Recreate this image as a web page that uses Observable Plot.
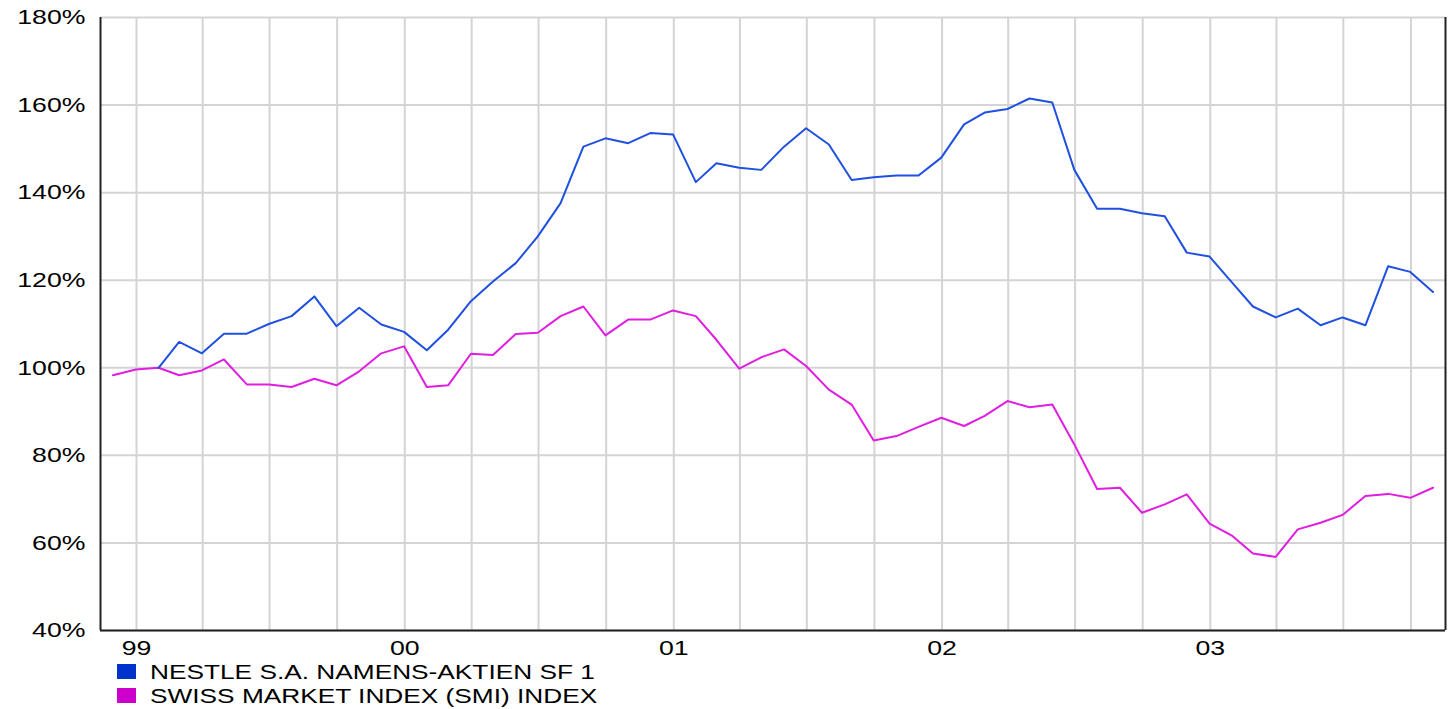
<!DOCTYPE html>
<html><head><meta charset="utf-8">
<script src="https://cdn.jsdelivr.net/npm/d3@7"></script>
<script src="https://cdn.jsdelivr.net/npm/@observablehq/plot@0.6"></script>
<style>
body{margin:0;background:#fff;font-family:"Liberation Sans",Arial,sans-serif;}
#chart svg{display:block;}
#legend{position:relative;height:49px;width:1449px;}
.row{position:absolute;left:117px;height:23px;width:700px;}
.sw{position:absolute;left:0;top:4px;width:19px;height:15px;}
.lab{position:absolute;left:33px;top:0;line-height:23px;white-space:nowrap;font-size:21px;transform:scaleX(1.25);transform-origin:left center;color:#000;}
</style></head><body>
<div id="chart"></div>
<div id="legend"></div>
<script>
const seriesNames = ["NESTLE S.A. NAMENS-AKTIEN SF 1", "SWISS MARKET INDEX (SMI) INDEX"];
const lineColors = ["#1f50e0", "#e01ee0"];
const legendColors = ["#0033cc", "#cc00cc"];

// month-end values, Nestle from Jan 1999, SMI from Nov 1998, both to Oct 2003
const nestle = [100, 105.9, 103.3, 107.8, 107.8, 110.0, 111.8, 116.3, 109.5, 113.7, 109.9, 108.2,
  104.0, 108.7, 115.2, 119.7, 123.9, 130.0, 137.6, 150.5, 152.4, 151.3, 153.6, 153.3,
  142.4, 146.7, 145.7, 145.2, 150.5, 154.7, 151.0, 142.9, 143.5, 143.9, 143.9, 148.0,
  155.6, 158.3, 159.1, 161.5, 160.6, 145.2, 136.3, 136.3, 135.3, 134.6, 126.3, 125.4,
  119.4, 114.0, 111.5, 113.5, 109.7, 111.5, 109.7, 123.2, 121.9, 117.3];
const smi = [98.3, 99.6, 100, 98.3, 99.4, 101.9, 96.2, 96.2, 95.6, 97.5, 96.0, 99.2,
  103.3, 104.9, 95.6, 96.0, 103.2, 102.9, 107.7, 108.0, 111.8, 114.0, 107.4, 111.0,
  111.0, 113.1, 111.8, 106.4, 99.8, 102.4, 104.2, 100.4, 95.0, 91.6, 83.4, 84.4,
  86.5, 88.6, 86.7, 89.0, 92.4, 91.0, 91.6, 82.5, 72.3, 72.6, 66.9, 68.8,
  71.1, 64.4, 61.6, 57.6, 56.8, 63.1, 64.6, 66.4, 70.7, 71.2, 70.3, 72.6];

const yTicks = [40, 60, 80, 100, 120, 140, 160, 180];
const yearTicks = [1999, 2000, 2001, 2002, 2003];
const yearLabels = ["99", "00", "01", "02", "03"];

const xStart = new Date(Date.UTC(1998, 10, 13));
const xEnd = new Date(Date.UTC(2003, 10, 17));
const monthEnds = d3.utcMonth.range(new Date(Date.UTC(1998, 11, 1)), new Date(Date.UTC(2003, 11, 1)))
  .map(d => d3.utcDay.offset(d, -1));
const quarterTicks = d3.utcMonth.every(3).range(xStart, xEnd);
const yearDates = yearTicks.map(y => new Date(Date.UTC(y, 0, 1)));

const smiData = smi.map((v, i) => ({date: monthEnds[i], value: v}));
const nestleData = nestle.map((v, i) => ({date: monthEnds[i + 2], value: v}));

const plot = Plot.plot({
  width: 1449, height: 660,
  marginLeft: 100, marginRight: 4, marginTop: 17, marginBottom: 30,
  style: {fontFamily: "Liberation Sans, Arial, sans-serif", fontSize: "21px", color: "#000", background: "#fff", overflow: "visible"},
  x: {type: "utc", domain: [xStart, xEnd]},
  y: {domain: [40, 180]},
  marks: [
    Plot.gridX(quarterTicks, {stroke: "#d4d4d4", strokeOpacity: 1, strokeWidth: 2}),
    Plot.gridY(yTicks, {stroke: "#d4d4d4", strokeOpacity: 1, strokeWidth: 2}),
    Plot.axisY(yTicks, {tickSize: 0, tickPadding: 15, tickFormat: d => d + "%", fontSize: 21, label: null}),
    Plot.axisX(yearDates, {tickSize: 0, tickPadding: 10, tickFormat: d => yearLabels[yearTicks.indexOf(d.getUTCFullYear())], fontSize: 21, label: null}),
    Plot.lineY(smiData, {x: "date", y: "value", stroke: lineColors[1], strokeWidth: 2}),
    Plot.lineY(nestleData, {x: "date", y: "value", stroke: lineColors[0], strokeWidth: 2}),
    Plot.ruleX([xStart, xEnd], {stroke: "#222", strokeWidth: 2}),
    Plot.ruleY([40], {stroke: "#222", strokeWidth: 2})
  ]
});

// horizontally widen tick text to match the stretched reference lettering
const sx = 1.27;
plot.querySelectorAll("text").forEach(t => {
  const tr = t.getAttribute("transform");
  if (tr) {
    t.setAttribute("transform", tr + ` scale(${sx},1)`);
  } else {
    const x = +t.getAttribute("x") || 0, y = +t.getAttribute("y") || 0;
    t.removeAttribute("x"); t.removeAttribute("y");
    t.setAttribute("transform", `translate(${x},${y}) scale(${sx},1)`);
  }
});
document.getElementById("chart").appendChild(plot);

const legend = document.getElementById("legend");
seriesNames.forEach((name, i) => {
  const row = document.createElement("div");
  row.className = "row";
  row.style.top = (i * 24) + "px";
  const sw = document.createElement("div");
  sw.className = "sw";
  sw.style.background = legendColors[i];
  const lab = document.createElement("div");
  lab.className = "lab";
  lab.textContent = name;
  row.appendChild(sw); row.appendChild(lab);
  legend.appendChild(row);
});
</script>
</body></html>
